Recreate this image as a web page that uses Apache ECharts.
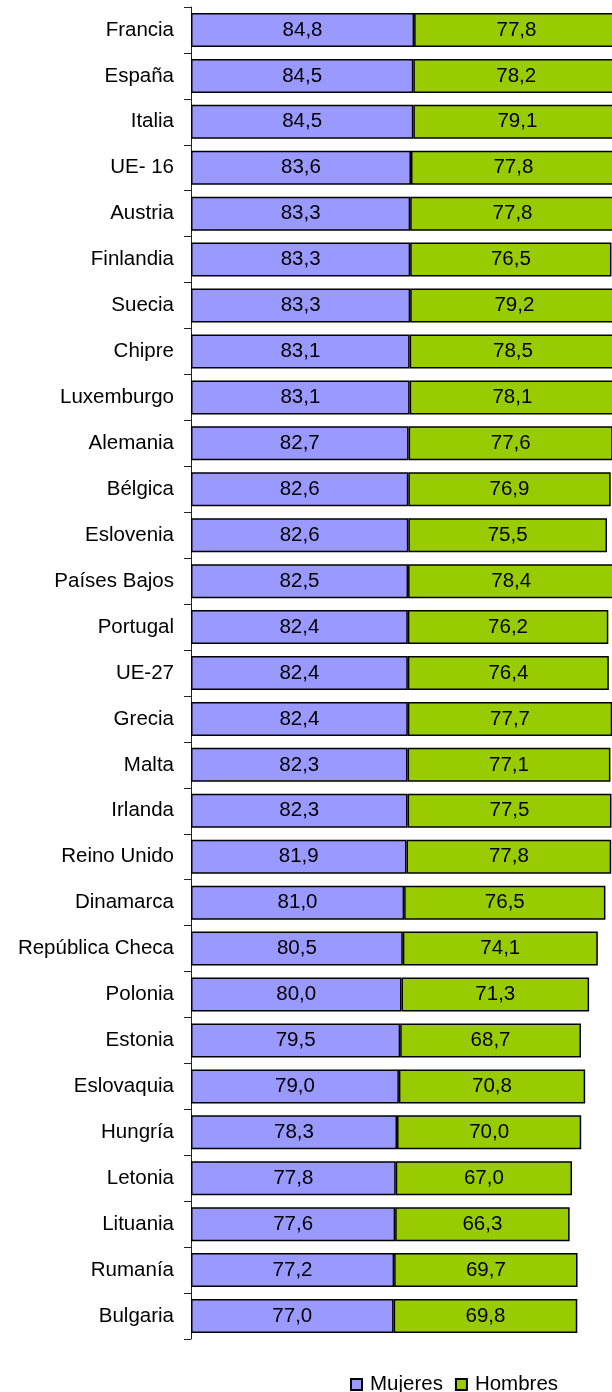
<!DOCTYPE html>
<html>
<head>
<meta charset="utf-8">
<script src="https://cdn.jsdelivr.net/npm/echarts@6/dist/echarts.min.js"></script>
<style>
  html, body { margin: 0; padding: 0; background: #fff; }
  #chart { width: 612px; height: 1392px; }
</style>
</head>
<body>
<div id="chart"></div>
<script>
  var paises = ['Francia', 'España', 'Italia', 'UE- 16', 'Austria', 'Finlandia', 'Suecia', 'Chipre',
    'Luxemburgo', 'Alemania', 'Bélgica', 'Eslovenia', 'Países Bajos', 'Portugal', 'UE-27', 'Grecia',
    'Malta', 'Irlanda', 'Reino Unido', 'Dinamarca', 'República Checa', 'Polonia', 'Estonia',
    'Eslovaquia', 'Hungría', 'Letonia', 'Lituania', 'Rumanía', 'Bulgaria'];
  var mujeres = [84.8, 84.5, 84.5, 83.6, 83.3, 83.3, 83.3, 83.1, 83.1, 82.7, 82.6, 82.6, 82.5, 82.4,
    82.4, 82.4, 82.3, 82.3, 81.9, 81.0, 80.5, 80.0, 79.5, 79.0, 78.3, 77.8, 77.6, 77.2, 77.0];
  var hombres = [77.8, 78.2, 79.1, 77.8, 77.8, 76.5, 79.2, 78.5, 78.1, 77.6, 76.9, 75.5, 78.4, 76.2,
    76.4, 77.7, 77.1, 77.5, 77.8, 76.5, 74.1, 71.3, 68.7, 70.8, 70.0, 67.0, 66.3, 69.7, 69.8];

  var fuente = '"Liberation Sans", Arial, sans-serif';

  function etiqueta (p) {
    return p.value.toFixed(1).replace('.', ',');
  }

  var myChart = echarts.init(document.getElementById('chart'));
  // el grafico original se sale por la derecha: max pequeño y sin clip
  var option = {
    animation: false,
    textStyle: { fontFamily: fuente },
    legend: {
      data: ['Mujeres', 'Hombres'],
      left: 345,
      top: 1369,
      icon: 'rect',
      itemWidth: 11,
      itemHeight: 11,
      itemGap: 12,
      textStyle: { fontSize: 20.5, color: '#000', fontFamily: fuente, padding: [0, 0, 0, 3] }
    },
    grid: {
      left: 191,
      top: 7,
      right: 0,
      height: 1332
    },
    xAxis: {
      type: 'value',
      show: false,
      min: 0,
      max: 160
    },
    yAxis: {
      type: 'category',
      inverse: true,
      data: paises,
      axisLine: { show: true, lineStyle: { color: '#222', width: 1 } },
      axisTick: { show: true, inside: false, length: 7, lineStyle: { color: '#222', width: 1 } },
      axisLabel: { margin: 17, fontSize: 20.5, color: '#000', fontFamily: fuente }
    },
    series: []
  };
  option.series[0] = {
    name: 'Mujeres',
    type: 'bar',
    stack: 'total',
    clip: false,
    barWidth: 34,
    data: mujeres,
    itemStyle: { color: '#9999FF', borderColor: '#000', borderWidth: 1.5 },
    label: { show: true, position: 'inside', formatter: etiqueta, fontSize: 20.5, color: '#000', fontFamily: fuente }
  };
  option.series[1] = {
    name: 'Hombres',
    type: 'bar',
    stack: 'total',
    clip: false,
    barWidth: 34,
    data: hombres,
    itemStyle: { color: '#99CC00', borderColor: '#000', borderWidth: 1.5 },
    label: { show: true, position: 'inside', formatter: etiqueta, fontSize: 20.5, color: '#000', fontFamily: fuente }
  };
  myChart.setOption(option);
</script>
</body>
</html>
